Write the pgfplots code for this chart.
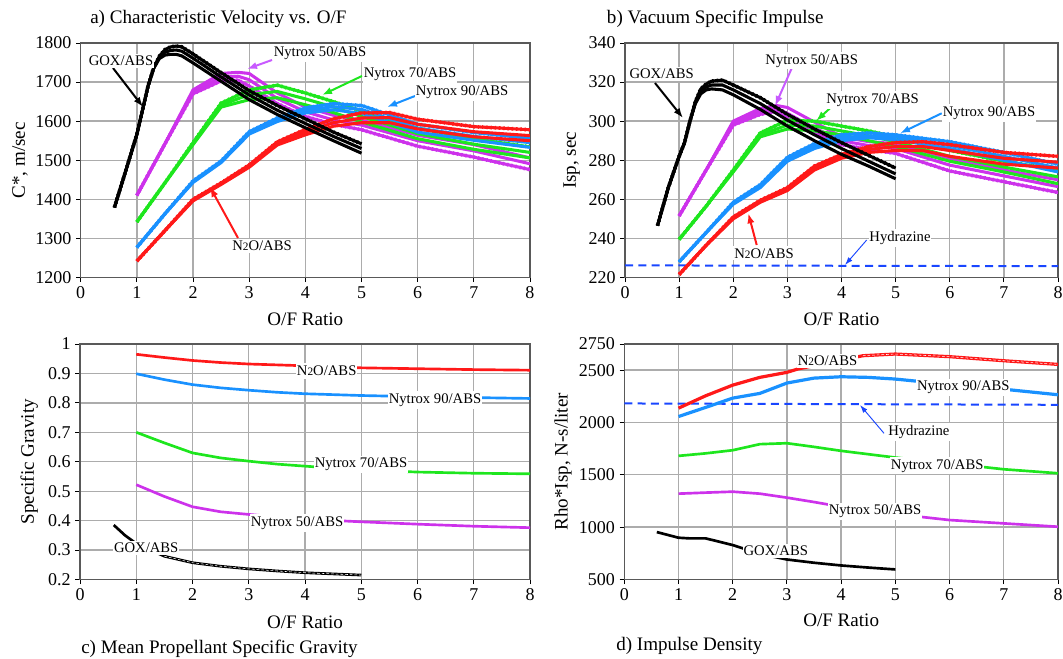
\documentclass[border=0pt]{standalone}
\usepackage{fontspec}
\setmainfont{Liberation Serif}
\usepackage{pgfplots}
\usepackage{pgfplotstable}
\pgfplotsset{compat=1.18}
\usetikzlibrary{arrows.meta}

\definecolor{cmag}{RGB}{205,50,235}
\definecolor{cmagl}{RGB}{200,90,255}
\definecolor{cgreen}{RGB}{30,230,30}
\definecolor{cblue}{RGB}{25,145,255}
\definecolor{cred}{RGB}{255,25,25}
\definecolor{chyd}{RGB}{25,70,255}
\definecolor{cgrid}{RGB}{172,172,172}

\newcommand{\two}{{\fontsize{8.5}{9}\selectfont 2}}

% ---------- panel a: C* ----------
\pgfplotstableread{
x lo hi mid
0.6 1379 1379 1379
0.8 1472 1472 1472
1.0 1566 1566 1566
1.1 1628 1628 1628
1.2 1690 1690 1690
1.3 1735 1737 1736
1.4 1760 1766 1763
1.5 1769 1783 1776
1.6 1771 1790 1781
1.7 1771 1792 1782
1.8 1767 1790 1779
2.0 1749 1772 1761
2.5 1702 1724 1713
3.0 1655 1678 1667
3.5 1617 1640 1628
4.0 1583 1606 1594
4.5 1550 1572 1561
5.0 1518 1542 1530
}\aGOX
\pgfplotstableread{
x lo hi mid
1.0 1410 1410 1410
1.5 1542 1542 1542
2.0 1670 1680 1675
2.5 1703 1722 1712
2.8 1705 1725 1715
3.0 1690 1722 1706
3.5 1645 1672 1658
4.0 1612 1636 1624
4.5 1592 1615 1603
5.0 1578 1602 1590
6.0 1536 1564 1550
7.0 1508 1540 1524
8.0 1476 1506 1491
}\aNL
\pgfplotstableread{
x lo hi mid
1.0 1342 1342 1342
1.5 1442 1442 1442
2.0 1540 1545 1542
2.5 1636 1646 1641
3.0 1655 1680 1668
3.5 1660 1692 1676
4.0 1642 1672 1657
4.5 1622 1650 1636
5.0 1598 1626 1612
6.0 1555 1582 1568
7.0 1528 1555 1541
8.0 1506 1534 1520
}\aNS
\pgfplotstableread{
x lo hi mid
1.0 1277 1277 1277
1.5 1363 1363 1363
2.0 1443 1447 1445
2.5 1494 1498 1496
3.0 1567 1573 1570
3.5 1599 1608 1603
4.0 1621 1634 1628
4.5 1629 1645 1637
5.0 1620 1640 1630
6.0 1572 1592 1582
7.0 1551 1571 1561
8.0 1533 1556 1545
}\aNN
\pgfplotstableread{
x lo hi mid
1.0 1242 1242 1242
1.5 1320 1320 1320
2.0 1396 1400 1398
2.5 1438 1442 1440
3.0 1482 1488 1485
3.5 1539 1547 1543
4.0 1565 1579 1572
4.5 1587 1606 1596
5.0 1596 1621 1608
5.5 1596 1622 1609
6.0 1580 1605 1592
7.0 1560 1586 1573
8.0 1550 1578 1563
}\aNO

% ---------- panel b: Isp ----------
\pgfplotstableread{
x lo hi mid
0.6 246.5 246.5 246.5
0.8 266 266 266
1.0 282 282 282
1.1 289 289 289
1.2 300 300 300
1.3 309 310 309.5
1.4 314 316.5 315
1.5 316 319 317.5
1.6 316.5 320.5 318.5
1.8 316 321 318.5
2.0 313.5 318.5 316
2.5 306 312 309
3.0 297.5 303.5 300.5
3.5 290 296 293
4.0 283 289 286
4.5 277 282.5 279.5
5.0 270.5 276 273
}\bGOX
\pgfplotstableread{
x lo hi mid
1.0 251.5 251.5 251.5
1.5 275 275 275
2.0 298 300 299
2.5 303.5 306.5 305
2.8 305 308 306.5
3.0 301.5 307 304
3.5 294 299.5 296.5
4.0 288 292 290
4.5 285.5 289.5 287.5
5.0 283.5 288.5 286
6.0 274.5 281 277.5
7.0 269 275 272
8.0 263.5 270 266.5
}\bNL
\pgfplotstableread{
x lo hi mid
1.0 239.5 239.5 239.5
1.5 256.5 256.5 256.5
2.0 274 275 274.5
2.5 292 294 293
3.0 296 300.5 298
3.5 295 300 297.5
4.0 293 297.5 295
4.5 290 295 292.5
5.0 287 292 289.5
6.0 279.5 285 282
7.0 274 279.5 276.5
8.0 268 275 271.5
}\bNS
\pgfplotstableread{
x lo hi mid
1.0 228 228 228
1.5 243 243 243
2.0 257.5 258.5 258
2.5 266 267.5 266.7
3.0 279.5 281.5 280.5
3.5 286 288.5 287
4.0 290 293 291.5
4.5 291.5 294 292.5
5.0 290.5 293 292
6.0 286 289.5 287.5
7.0 280 284 282
8.0 274 278 276
}\bNN
\pgfplotstableread{
x lo hi mid
1.0 221.5 221.5 221.5
1.5 236.5 236.5 236.5
2.0 250 251 250.5
2.5 258.5 259.5 259
3.0 264.5 266 265.2
3.5 275 277 276
4.0 281 283 282
4.5 284 287 285.5
5.0 285 289 287
5.5 285 289.5 287
6.0 282 288 285
7.0 278 284 281
8.0 276 282 279
}\bNO

% band of lines: #1 table, #2 colour, #3 dotted edge column
\newcommand{\band}[3]{%
  \addplot[#2, line width=2.3pt] table[x=x,y=lo]{#1};
  \addplot[#2, line width=2.3pt] table[x=x,y=hi]{#1};
  \addplot[#2, line width=2.3pt] table[x=x,y=mid]{#1};
  \addplot[#2, line width=2.8pt, dash pattern=on 1.1pt off 2.1pt] table[x=x,y=#3]{#1};
}

\pgfplotsset{
  panel/.style={
    scale only axis, anchor=south west,
    xmin=0, xmax=8, xtick={0,1,...,8},
    xmajorgrids=true, ymajorgrids=true,
    major grid style={color=cgrid, line width=1.0pt, solid},
    axis line style={draw=black!65, line width=0.8pt},
    major tick style={black, line width=0.7pt},
    tick align=outside, tick pos=left,
    major tick length=3.5pt,
    ticklabel style={font=\fontsize{13.5}{15}\selectfont, text=black},
    /pgf/number format/assume math mode=true,
    /pgf/number format/1000 sep={},
    label style={font=\fontsize{14.3}{16}\selectfont},
    xlabel={O/F Ratio},
  },
  lin/.style={line width=2pt},
}

\begin{document}
\begin{tikzpicture}
\path[use as bounding box] (0,0) rectangle (797.25pt,494.25pt);

% ===== a) C* =====
\begin{axis}[panel, at={(60.525pt,286.125pt)}, width=336.975pt, height=175.875pt,
  ymin=1200, ymax=1800, ytick={1200,1300,...,1800},
  ylabel={C*, m/sec},
  xlabel style={at={(axis description cs:0.5,-0.178)}, anchor=center},
  ylabel style={at={(axis description cs:-0.135,0.5)}, anchor=center}]
  \band{\aNL}{cmag}{lo}
  \band{\aNS}{cgreen}{hi}
  \band{\aNN}{cblue}{hi}
  \band{\aNO}{cred}{hi}
  \band{\aGOX}{black}{hi}
\end{axis}

% ===== b) Isp =====
\begin{axis}[panel, at={(468.75pt,286.125pt)}, width=324.75pt, height=175.875pt,
  ymin=220, ymax=340, ytick={220,240,...,340},
  ylabel={Isp, sec},
  xlabel style={at={(axis description cs:0.5,-0.178)}, anchor=center},
  ylabel style={at={(axis description cs:-0.123,0.5)}, anchor=center}]
  \addplot[chyd, line width=1.5pt, dash pattern=on 6pt off 4pt] coordinates {(0,226.2) (8,225.8)};
  \band{\bNL}{cmag}{lo}
  \band{\bNS}{cgreen}{hi}
  \band{\bNN}{cblue}{hi}
  \band{\bNO}{cred}{hi}
  \band{\bGOX}{black}{hi}
\end{axis}

% ===== c) Specific gravity =====
\begin{axis}[panel, at={(60pt,59.625pt)}, width=337.5pt, height=176.625pt,
  ymin=0.2, ymax=1, ytick={0.2,0.3,0.4,0.5,0.6,0.7,0.8,0.9,1},
  yticklabels={0.2,0.3,0.4,0.5,0.6,0.7,0.8,0.9,1},
  ylabel={Specific Gravity},
  xlabel style={at={(axis description cs:0.5,-0.18)}, anchor=center},
  ylabel style={at={(axis description cs:-0.113,0.5)}, anchor=center}]
  \addplot[black, lin] coordinates {(0.6,0.385) (0.8,0.350) (1,0.322) (1.5,0.279) (2,0.257) (2.5,0.245) (3,0.236) (3.5,0.229) (4,0.223) (4.5,0.219) (5,0.215)};
  \addplot[cmag, lin] coordinates {(1,0.522) (1.5,0.482) (2,0.447) (2.5,0.430) (3,0.421) (4,0.405) (5,0.396) (6,0.388) (7,0.381) (8,0.376)};
  \addplot[cgreen, lin] coordinates {(1,0.700) (1.5,0.664) (2,0.630) (2.5,0.613) (3,0.602) (3.5,0.592) (4,0.585) (5,0.572) (6,0.565) (7,0.561) (8,0.559)};
  \addplot[cblue, lin] coordinates {(1,0.899) (1.5,0.879) (2,0.862) (2.5,0.851) (3,0.843) (3.5,0.836) (4,0.831) (5,0.825) (6,0.821) (7,0.818) (8,0.815)};
  \addplot[cred, lin] coordinates {(1,0.965) (1.5,0.954) (2,0.944) (2.5,0.937) (3,0.932) (3.5,0.929) (4,0.926) (4.5,0.922) (5,0.919) (6,0.916) (7,0.913) (8,0.911)};
  \addplot[white, line width=0.4pt, dash pattern=on 2pt off 1.5pt] coordinates {(1.5,0.279) (2,0.257) (2.5,0.245) (3,0.236) (3.5,0.229) (4,0.223) (4.5,0.219) (5,0.215)};
\end{axis}

% ===== d) Impulse density =====
\begin{axis}[panel, at={(468.225pt,59.625pt)}, width=325.275pt, height=176.625pt,
  ymin=500, ymax=2750, ytick={500,1000,1500,2000,2500,2750},
  ylabel={Rho*Isp, N-s/liter},
  xlabel style={at={(axis description cs:0.5,-0.175)}, anchor=center},
  ylabel style={at={(axis description cs:-0.141,0.5)}, anchor=center}]
  \addplot[chyd, line width=1.5pt, dash pattern=on 6pt off 4pt] coordinates {(0,2182) (8,2169)};
  \addplot[black, lin] coordinates {(0.6,953) (1,899) (1.2,893) (1.5,893) (2,829) (2.5,745) (3,691) (3.5,660) (4,634) (4.5,614) (5,596)};
  \addplot[cmag, lin] coordinates {(1,1320) (1.5,1330) (2,1339) (2.5,1320) (3,1282) (3.5,1240) (4,1195) (5,1125) (6,1068) (7,1036) (8,1004)};
  \addplot[cgreen, lin] coordinates {(1,1681) (1.5,1705) (2,1735) (2.5,1793) (3,1802) (3.5,1767) (4,1729) (4.5,1697) (5,1665) (6,1610) (7,1553) (8,1515)};
  \addplot[cblue, line width=2.4pt] coordinates {(1,2057) (1.5,2144) (2,2233) (2.5,2278) (3,2377) (3.5,2424) (4,2437) (4.5,2431) (5,2415) (5.5,2389) (6,2365) (7,2318) (8,2265)};
  \addplot[cred, line width=2.4pt] coordinates {(1,2137) (1.5,2255) (2,2357) (2.5,2431) (3,2479) (3.2,2511) (3.5,2543) (4,2596) (4.4,2638) (5,2654) (6,2629) (7,2590) (8,2555)};
  \addplot[white, line width=0.4pt, dash pattern=on 2pt off 1.5pt] coordinates {(4.4,2638) (5,2654) (6,2629) (7,2590) (8,2555)};
\end{axis}

% ===== annotations (pixel coordinates of the reference) =====
\begin{scope}[x=0.75pt, y=-0.75pt, shift={(0pt,494.25pt)},
  lab/.style={font=\fontsize{11}{12}\selectfont, fill=white, inner xsep=0.6pt, inner ysep=1.6pt},
  ttl/.style={font=\fontsize{14.3}{16}\selectfont, inner sep=0pt, anchor=west},
  arr/.style={-{Latex[length=7.5pt,width=5.5pt]}, line width=1.5pt},
  thin/.style={-{Latex[length=6pt,width=4pt]}, line width=0.7pt}]
  \node[ttl] at (90,19) {a) Characteristic Velocity vs. O/F};
  \node[ttl] at (606.7,19) {b) Vacuum Specific Impulse};
  \node[ttl] at (81,649) {c) Mean Propellant Specific Gravity};
  \node[ttl] at (616,645.8) {d) Impulse Density};
  % panel a
  \draw[arr, black] (113,68) -- (143,107);
  \node[lab] at (121,61) {GOX/ABS};
  \draw[arr, cmagl] (272,60) -- (247,69);
  \node[lab] at (320,53) {Nytrox 50/ABS};
  \draw[arr, cgreen] (362,76) -- (322,95);
  \node[lab] at (410,74) {Nytrox 70/ABS};
  \draw[arr, cblue] (415,96) -- (387,107);
  \node[lab] at (462,92) {Nytrox 90/ABS};
  \draw[arr, cred] (238,238) -- (210,187);
  \node[lab] at (262,246) {N\two O/ABS};
  % panel b
  \draw[arr, black] (655,83) -- (683,118);
  \node[lab] at (661.7,74.2) {GOX/ABS};
  \draw[arr, cmagl] (791.7,68.3) -- (775,106);
  \node[lab] at (811.7,60.8) {Nytrox 50/ABS};
  \draw[arr, cgreen] (831.7,106.7) -- (816,121);
  \node[lab] at (872.5,100) {Nytrox 70/ABS};
  \draw[arr, cblue] (941.7,113.3) -- (900,133.3);
  \node[lab] at (989,113) {Nytrox 90/ABS};
  \draw[arr, cred] (756.7,245) -- (748.3,213.3);
  \node[lab] at (764,253.3) {N\two O/ABS};
  \draw[thin, chyd] (866.7,240) -- (845,265);
  \node[lab] at (900,238.3) {Hydrazine};
  % panel c
  \node[lab, inner ysep=2.6pt] at (326.7,371) {N\two O/ABS};
  \node[lab] at (435,400) {Nytrox 90/ABS};
  \node[lab] at (361,464.5) {Nytrox 70/ABS};
  \node[lab] at (297,523) {Nytrox 50/ABS};
  \node[lab] at (146.2,548) {GOX/ABS};
  % panel d
  \node[lab] at (827.5,360.8) {N\two O/ABS};
  \node[lab] at (963.3,387.2) {Nytrox 90/ABS};
  \draw[thin, chyd] (884,433.3) -- (860,405);
  \node[lab] at (918.8,432.2) {Hydrazine};
  \node[lab] at (937.2,465.8) {Nytrox 70/ABS};
  \node[lab] at (875,511.2) {Nytrox 50/ABS};
  \node[lab] at (775.8,551.2) {GOX/ABS};
\end{scope}
\end{tikzpicture}
\end{document}
